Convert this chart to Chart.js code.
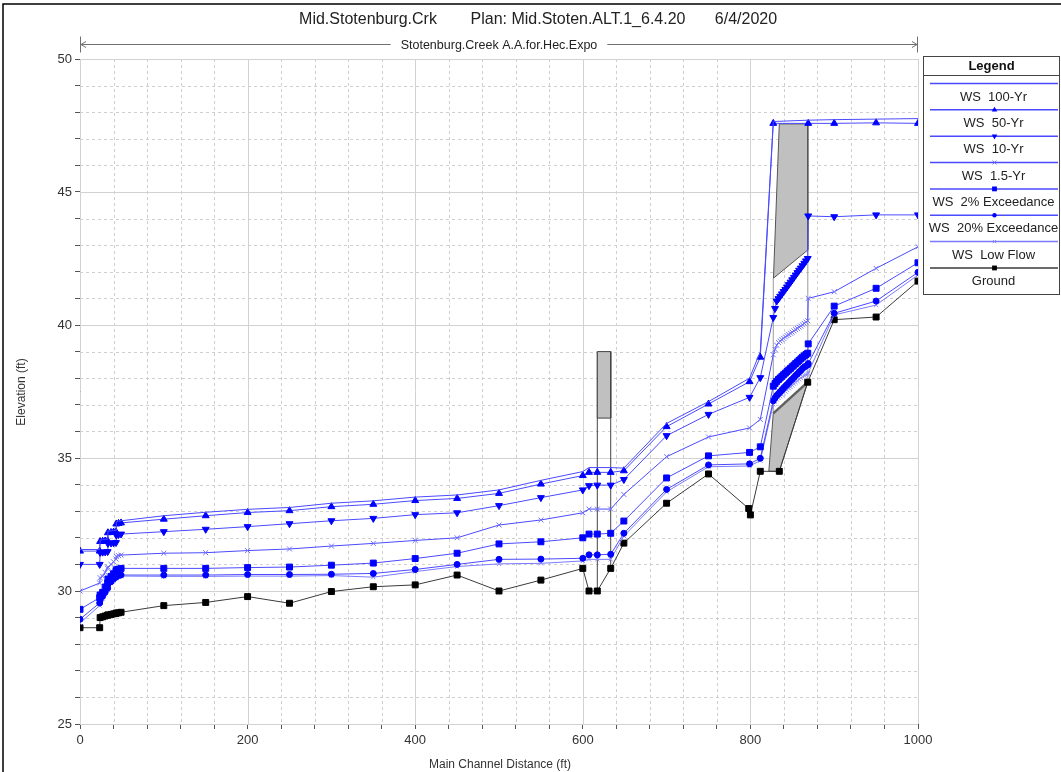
<!DOCTYPE html>
<html>
<head>
<meta charset="utf-8">
<script src="https://cdn.jsdelivr.net/npm/chart.js@4.4.1/dist/chart.umd.min.js"></script>
<style>
  html, body { margin: 0; padding: 0; background: #ffffff; }
  #wrap { width: 1061px; height: 772px; position: relative; }
</style>
</head>
<body>
<div id="wrap"><canvas id="profile" width="1061" height="772"></canvas></div>
<script>
// ---- Cross-section stations (ft) downstream of the culvert ----
const xDown = [0, 23.5, 24, 27, 30, 33, 33.3, 37, 40, 43, 43.3, 46, 49,
  100, 150, 200, 250, 300, 350, 400, 450, 500, 550, 600, 607.4, 617.3, 633.3, 649,
  700, 750, 799, 811.8];

// Water surface elevations (ft) at xDown
const ws100Down = [31.56, 31.56, 31.92, 31.93, 31.94, 31.95, 32.25, 32.26, 32.27, 32.28, 32.60, 32.62, 32.64,
  32.83, 32.96, 33.07, 33.14, 33.30, 33.39, 33.53, 33.61, 33.80, 34.16, 34.49, 34.64, 34.64, 34.64, 34.62,
  36.30, 37.12, 38.00, 39.00];
const ws50Down = [31.50, 31.50, 31.86, 31.87, 31.88, 31.89, 32.19, 32.20, 32.21, 32.22, 32.52, 32.54, 32.56,
  32.70, 32.83, 32.95, 33.02, 33.17, 33.26, 33.40, 33.48, 33.67, 34.02, 34.34, 34.46, 34.46, 34.46, 34.52,
  36.18, 37.03, 37.87, 38.79];
const ws10Down = [31.00, 31.00, 31.45, 31.46, 31.47, 31.48, 31.79, 31.80, 31.81, 31.82, 32.10, 32.12, 32.14,
  32.23, 32.32, 32.42, 32.53, 32.64, 32.73, 32.87, 32.94, 33.21, 33.51, 33.80, 33.96, 33.98, 33.98, 34.19,
  35.84, 36.64, 37.28, 38.02];
const ws15Down = [30.00, 30.30, 30.50, 30.55, 30.70, 30.85, 30.90, 31.00, 31.10, 31.20, 31.30, 31.33, 31.35,
  31.42, 31.44, 31.52, 31.58, 31.69, 31.79, 31.90, 32.00, 32.48, 32.67, 32.94, 33.08, 33.08, 33.08, 33.63,
  35.05, 35.79, 36.13, 36.45];
const ws2Down = [29.31, 29.75, 29.85, 29.95, 30.15, 30.30, 30.45, 30.55, 30.65, 30.75, 30.80, 30.82, 30.85,
  30.85, 30.85, 30.88, 30.90, 30.97, 31.05, 31.22, 31.42, 31.77, 31.85, 32.00, 32.14, 32.14, 32.17, 32.63,
  34.25, 35.08, 35.21, 35.42];
const ws20Down = [28.94, 29.55, 29.65, 29.80, 29.95, 30.10, 30.25, 30.35, 30.45, 30.52, 30.56, 30.58, 30.60,
  30.60, 30.60, 30.62, 30.62, 30.63, 30.66, 30.81, 31.00, 31.19, 31.20, 31.23, 31.36, 31.36, 31.38, 32.17,
  33.82, 34.74, 34.78, 34.99];
const wsLowDown = [28.80, 29.45, 29.55, 29.72, 29.88, 30.05, 30.20, 30.30, 30.40, 30.48, 30.52, 30.54, 30.56,
  30.55, 30.55, 30.56, 30.56, 30.58, 30.52, 30.73, 30.92, 31.02, 31.04, 31.13, 31.19, 31.19, 31.19, 32.07,
  33.73, 34.67, 34.70, 34.90];

// ---- Computed points through the culvert barrel ----
const xCulvert = [827.3, 829.4, 831.4, 833.5, 835.5, 837.6, 839.6, 841.7, 843.7, 845.8, 847.9,
  849.9, 852.0, 854.0, 856.1, 858.1, 860.2, 862.2, 864.3, 866.3, 868.4];
const ws10Culvert = [40.28, 40.62, 40.90, 40.99, 41.08, 41.17, 41.26, 41.34, 41.43, 41.52, 41.61,
  41.70, 41.79, 41.88, 41.97, 42.06, 42.14, 42.23, 42.32, 42.41, 42.50];
const ws15Culvert = [38.88, 39.08, 39.24, 39.34, 39.40, 39.45, 39.50, 39.55, 39.60, 39.64, 39.69,
  39.73, 39.78, 39.83, 39.87, 39.92, 39.96, 40.01, 40.06, 40.11, 40.16];
const ws2Culvert = [37.70, 37.80, 37.88, 37.95, 38.01, 38.07, 38.13, 38.19, 38.25, 38.31, 38.37,
  38.43, 38.49, 38.55, 38.61, 38.67, 38.73, 38.79, 38.84, 38.89, 38.94];
const ws20Culvert = [37.15, 37.26, 37.35, 37.42, 37.49, 37.56, 37.63, 37.70, 37.76, 37.83, 37.90,
  37.96, 38.03, 38.10, 38.16, 38.23, 38.29, 38.36, 38.42, 38.46, 38.50];
const wsLowCulvert = [37.02, 37.12, 37.20, 37.26, 37.32, 37.38, 37.44, 37.50, 37.56, 37.62, 37.67,
  37.73, 37.79, 37.85, 37.90, 37.96, 38.01, 38.06, 38.10, 38.13, 38.15];

// Overtopping flows: downstream face of the road
const xFace = [827.3];
const ws100Face = [47.65];
const ws50Face = [47.58];

// ---- Stations upstream of the culvert ----
const xUp = [869, 900, 950, 1000];
const ws100Up = [47.70, 47.72, 47.74, 47.76];
const ws50Up = [47.58, 47.58, 47.60, 47.58];
const ws10Up = [44.10, 44.07, 44.14, 44.14];
const ws15Up = [41.00, 41.25, 42.13, 42.94];
const ws2Up = [39.29, 40.71, 41.38, 42.34];
const ws20Up = [38.55, 40.44, 40.90, 41.98];
const wsLowUp = [38.20, 40.38, 40.75, 41.88];

// ---- Ground (channel invert) profile ----
const groundX = [0, 23.5, 24, 27, 30, 33, 33.3, 37, 40, 43, 43.3, 46, 49,
  100, 150, 200, 250, 300, 350, 400, 450, 500, 550, 600, 607.4, 617.3, 633.3, 649,
  700, 750, 798, 800, 811.8, 834.5, 868.4, 900, 950, 1000];
const groundY = [28.62, 28.62, 29.00, 29.03, 29.06, 29.09, 29.10, 29.12, 29.14, 29.16, 29.17, 29.18, 29.20,
  29.45, 29.57, 29.79, 29.54, 29.98, 30.16, 30.23, 30.60, 30.00, 30.41, 30.85, 30.00, 30.00, 30.85, 31.80,
  33.30, 34.40, 33.10, 32.86, 34.50, 34.50, 37.85, 40.20, 40.30, 41.65];

// ---- Bridge (stations 617.3 - 633.3) ----
const bridgeX = [617.3, 633.3];
const bridgeDeckTop = 39.0;
const bridgeLowChord = 36.5;
const bridgeGround = [30.0, 30.85];

// ---- Culvert road embankment and barrel ----
const roadX = [827.5, 834.5, 868.5, 868.5, 827.5];
const roadY = [41.76, 47.56, 47.56, 42.82, 41.76];
const barrelFillX = [822.0, 834.5, 868.4, 827.3, 822.0];
const barrelFillY = [34.50, 34.50, 37.85, 36.68, 34.50];
const barrelInvertX = [827.3, 868.4];
const barrelInvertY = [36.68, 37.85];
const barrelFaceX = [827.3, 827.3, null, 868.5, 868.5];
const barrelFaceY = [36.68, 41.76, null, 37.85, 42.82];

// ---- Axis ticks ----
const xTickStep = 40, xLabelEvery = 200;
const yTickStep = 1, yLabelEvery = 5;

// ---- Legend labels ----
const seriesNames = ['WS  100-Yr', 'WS  50-Yr', 'WS  10-Yr', 'WS  1.5-Yr',
  'WS  2% Exceedance', 'WS  20% Exceedance', 'WS  Low Flow', 'Ground'];

// ---------------------------------------------------------------
function pts(xs, ys) {
  return xs.map((x, i) => ({ x: x, y: ys[i] }));
}
const WS_LINE = '#4a4aff';
const WS_MARK = '#0000ff';
const WS_LIGHT = '#8c8cff';

const seriesStyle = [
  { line: WS_LINE, mark: WS_MARK, style: false, rot: 0, r: 0 },
  { line: WS_LINE, mark: WS_MARK, style: 'triangle', rot: 0, r: 4 },
  { line: WS_LINE, mark: WS_MARK, style: 'triangle', rot: 180, r: 4 },
  { line: WS_LINE, mark: '#6f6fff', style: 'crossRot', rot: 0, r: 3.5 },
  { line: WS_LINE, mark: WS_MARK, style: 'rect', rot: 0, r: 4.2 },
  { line: WS_LINE, mark: WS_MARK, style: 'circle', rot: 0, r: 3 },
  { line: '#7a7aff', mark: WS_LIGHT, style: 'crossRot', rot: 0, r: 3 },
  { line: '#3a3a3a', mark: '#000000', style: 'rect', rot: 0, r: 4.2 }
];

const seriesData = [
  pts(xDown, ws100Down).concat(pts(xFace, ws100Face), pts(xUp, ws100Up)),
  pts(xDown, ws50Down).concat(pts(xFace, ws50Face), pts(xUp, ws50Up)),
  pts(xDown, ws10Down).concat(pts(xCulvert, ws10Culvert), pts(xUp, ws10Up)),
  pts(xDown, ws15Down).concat(pts(xCulvert, ws15Culvert), pts(xUp, ws15Up)),
  pts(xDown, ws2Down).concat(pts(xCulvert, ws2Culvert), pts(xUp, ws2Up)),
  pts(xDown, ws20Down).concat(pts(xCulvert, ws20Culvert), pts(xUp, ws20Up)),
  pts(xDown, wsLowDown).concat(pts(xCulvert, wsLowCulvert), pts(xUp, wsLowUp)),
  pts(groundX, groundY)
];

const datasets = seriesData.map((d, i) => {
  const s = seriesStyle[i];
  return {
    label: seriesNames[i],
    data: d,
    showLine: true,
    borderColor: s.line,
    borderWidth: 1,
    pointStyle: s.style === false ? 'circle' : s.style,
    pointRotation: s.rot,
    pointRadius: s.r,
    pointBackgroundColor: s.mark,
    pointBorderColor: s.mark,
    pointBorderWidth: 1,
    pointHoverRadius: s.r,
    fill: false,
    tension: 0,
    order: i
  };
});

// Structure outlines (drawn beneath the profiles)
const structBase = { showLine: true, pointRadius: 0, pointHoverRadius: 0, tension: 0, spanGaps: false };
datasets.push(Object.assign({}, structBase, {
  label: 'road', data: pts(roadX, roadY), borderColor: '#555555', borderWidth: 1,
  backgroundColor: '#c0c0c0', fill: 'shape', order: 20
}));
datasets.push(Object.assign({}, structBase, {
  label: 'barrel', data: pts(barrelFillX, barrelFillY), borderColor: '#555555', borderWidth: 1,
  backgroundColor: '#c0c0c0', fill: 'shape', order: 21
}));
datasets.push(Object.assign({}, structBase, {
  label: 'invert', data: pts(barrelInvertX, barrelInvertY), borderColor: '#606060', borderWidth: 2.5,
  fill: false, order: 19
}));
datasets.push(Object.assign({}, structBase, {
  label: 'faces', data: pts(barrelFaceX, barrelFaceY), borderColor: '#9a9a9a', borderWidth: 1,
  fill: false, order: 22
}));
datasets.push(Object.assign({}, structBase, {
  label: 'deck', data: pts([bridgeX[0], bridgeX[1], bridgeX[1], bridgeX[0], bridgeX[0]],
    [bridgeDeckTop, bridgeDeckTop, bridgeLowChord, bridgeLowChord, bridgeDeckTop]),
  borderColor: '#444444', borderWidth: 1, backgroundColor: '#c0c0c0', fill: 'shape', order: 23
}));
datasets.push(Object.assign({}, structBase, {
  label: 'piers', data: pts([bridgeX[0], bridgeX[0], null, bridgeX[1], bridgeX[1]],
    [bridgeGround[0], bridgeDeckTop, null, bridgeGround[1], bridgeDeckTop]),
  borderColor: '#444444', borderWidth: 1, fill: false, order: 24
}));

// ---- Grid, frame, titles and legend ----
const FONT = '"Liberation Sans", Arial, sans-serif';

const gridPlugin = {
  id: 'profileGrid',
  beforeDatasetsDraw(chart) {
    const { ctx, chartArea: a, scales: { x, y } } = chart;
    ctx.save();
    ctx.lineWidth = 1;
    for (let v = x.min; v <= x.max + 1e-9; v += xTickStep) {
      const px = Math.round(x.getPixelForValue(v)) + 0.5;
      const major = Math.abs(v % xLabelEvery) < 1e-9;
      ctx.strokeStyle = major ? '#d2d2d2' : '#cfcfcf';
      ctx.setLineDash(major ? [] : [3, 3]);
      ctx.beginPath(); ctx.moveTo(px, a.top); ctx.lineTo(px, a.bottom); ctx.stroke();
    }
    for (let v = y.min; v <= y.max + 1e-9; v += yTickStep) {
      const py = Math.round(y.getPixelForValue(v)) + 0.5;
      const major = Math.abs(v % yLabelEvery) < 1e-9;
      ctx.strokeStyle = major ? '#d2d2d2' : '#cfcfcf';
      ctx.setLineDash(major ? [] : [3, 3]);
      ctx.beginPath(); ctx.moveTo(a.left, py); ctx.lineTo(a.right, py); ctx.stroke();
    }
    ctx.restore();
  }
};

function drawMarker(ctx, style, rot, r, cx, cy, color) {
  ctx.save();
  ctx.fillStyle = color; ctx.strokeStyle = color; ctx.lineWidth = 1;
  ctx.beginPath();
  if (style === 'triangle') {
    const s = rot === 180 ? -1 : 1;
    ctx.moveTo(cx, cy - s * r);
    ctx.lineTo(cx + r * 0.866, cy + s * r * 0.5);
    ctx.lineTo(cx - r * 0.866, cy + s * r * 0.5);
    ctx.closePath(); ctx.fill();
  } else if (style === 'rect') {
    const h = r * Math.SQRT1_2;
    ctx.fillRect(cx - h, cy - h, 2 * h, 2 * h);
  } else if (style === 'circle') {
    ctx.arc(cx, cy, r, 0, Math.PI * 2); ctx.fill();
  } else if (style === 'crossRot') {
    const h = r * Math.SQRT1_2;
    ctx.moveTo(cx - h, cy - h); ctx.lineTo(cx + h, cy + h);
    ctx.moveTo(cx + h, cy - h); ctx.lineTo(cx - h, cy + h);
    ctx.stroke();
  }
  ctx.restore();
}

const decorPlugin = {
  id: 'profileDecor',
  afterDraw(chart) {
    const { ctx, chartArea: a, scales: { x } } = chart;
    ctx.save();
    // outer frame
    ctx.strokeStyle = '#000000'; ctx.lineWidth = 1.5;
    ctx.beginPath(); ctx.moveTo(3, 800); ctx.lineTo(3, 4); ctx.lineTo(1100, 4); ctx.stroke();

    // title
    ctx.fillStyle = '#222222';
    ctx.textBaseline = 'middle'; ctx.textAlign = 'center';
    ctx.font = '16px ' + FONT;
    ctx.fillText('Mid.Stotenburg.Crk', 368, 20);
    ctx.fillText('Plan: Mid.Stoten.ALT.1_6.4.20', 578, 20);
    ctx.fillText('6/4/2020', 746, 20);

    // reach banner with arrows
    const x0 = x.getPixelForValue(x.min), x1 = x.getPixelForValue(x.max);
    const by = 44.5;
    const reach = 'Stotenburg.Creek A.A.for.Hec.Expo';
    ctx.font = '12.5px ' + FONT;
    const tw = ctx.measureText(reach).width;
    const cx = (x0 + x1) / 2;
    ctx.fillText(reach, cx, by + 1);
    ctx.strokeStyle = '#707070'; ctx.lineWidth = 1;
    ctx.beginPath();
    ctx.moveTo(x0 + 1, by); ctx.lineTo(cx - tw / 2 - 10, by);
    ctx.moveTo(cx + tw / 2 + 10, by); ctx.lineTo(x1 - 1, by);
    ctx.moveTo(x0 + 0.5, by - 8); ctx.lineTo(x0 + 0.5, by + 8);
    ctx.moveTo(x1 - 0.5, by - 8); ctx.lineTo(x1 - 0.5, by + 8);
    ctx.moveTo(x0 + 6, by - 3); ctx.lineTo(x0 + 1, by); ctx.lineTo(x0 + 6, by + 3);
    ctx.moveTo(x1 - 6, by - 3); ctx.lineTo(x1 - 1, by); ctx.lineTo(x1 - 6, by + 3);
    ctx.stroke();

    // axis titles
    ctx.fillStyle = '#333333';
    ctx.font = '12px ' + FONT;
    ctx.fillText('Main Channel Distance (ft)', 500, 765);
    ctx.save();
    ctx.translate(22, 392); ctx.rotate(-Math.PI / 2);
    ctx.fillText('Elevation (ft)', 0, 0);
    ctx.restore();

    // legend box
    const L = 923.5, T = 56.5, R = 1059.5, B = 294.5;
    ctx.fillStyle = '#ffffff';
    ctx.fillRect(L, T, R - L, B - T);
    ctx.strokeStyle = '#444444'; ctx.lineWidth = 1;
    ctx.strokeRect(L, T, R - L, B - T);
    ctx.beginPath(); ctx.moveTo(L, 75.5); ctx.lineTo(R, 75.5); ctx.stroke();
    ctx.fillStyle = '#111111';
    ctx.font = 'bold 13px ' + FONT;
    ctx.fillText('Legend', (L + R) / 2, 66);
    ctx.font = '13px ' + FONT;
    const lx = (L + R) / 2 + 2;
    seriesNames.forEach((name, i) => {
      const s = seriesStyle[i];
      const ly = 83.5 + i * 26.35;
      ctx.strokeStyle = s.line; ctx.lineWidth = 1.5;
      ctx.beginPath(); ctx.moveTo(930, ly); ctx.lineTo(1058, ly); ctx.stroke();
      if (s.style) drawMarker(ctx, s.style, s.rot, s.r - 0.8, lx + 1, ly, s.mark);
      ctx.fillStyle = '#222222';
      ctx.fillText(name, lx, ly + 13.5);
    });
    ctx.restore();
  }
};

new Chart(document.getElementById('profile'), {
  type: 'scatter',
  data: { datasets: datasets },
  options: {
    responsive: false,
    animation: false,
    devicePixelRatio: 1,
    layout: { padding: { left: 0, top: 59, right: 143, bottom: 0 } },
    plugins: { legend: { display: false }, title: { display: false }, tooltip: { enabled: false } },
    scales: {
      x: {
        type: 'linear', min: 0, max: 1000,
        afterFit(s) { s.height = 48; },
        grid: { drawOnChartArea: false, drawTicks: true, tickLength: 5, color: '#555555' },
        border: { display: true, color: '#555555', width: 1 },
        ticks: {
          stepSize: xTickStep, autoSkip: false, maxRotation: 0, padding: 4,
          color: '#333333', font: { family: FONT, size: 13 },
          callback: (v) => (Math.abs(v % xLabelEvery) < 1e-9 ? String(v) : '')
        }
      },
      y: {
        type: 'linear', min: 25, max: 50,
        afterFit(s) { s.width = 80; },
        grid: { drawOnChartArea: false, drawTicks: true, tickLength: 5, color: '#555555' },
        border: { display: true, color: '#555555', width: 1 },
        ticks: {
          stepSize: yTickStep, autoSkip: false, padding: 3,
          color: '#333333', font: { family: FONT, size: 13 },
          callback: (v) => (Math.abs(v % yLabelEvery) < 1e-9 ? String(v) : '')
        }
      }
    }
  },
  plugins: [gridPlugin, decorPlugin]
});
</script>
</body>
</html>
